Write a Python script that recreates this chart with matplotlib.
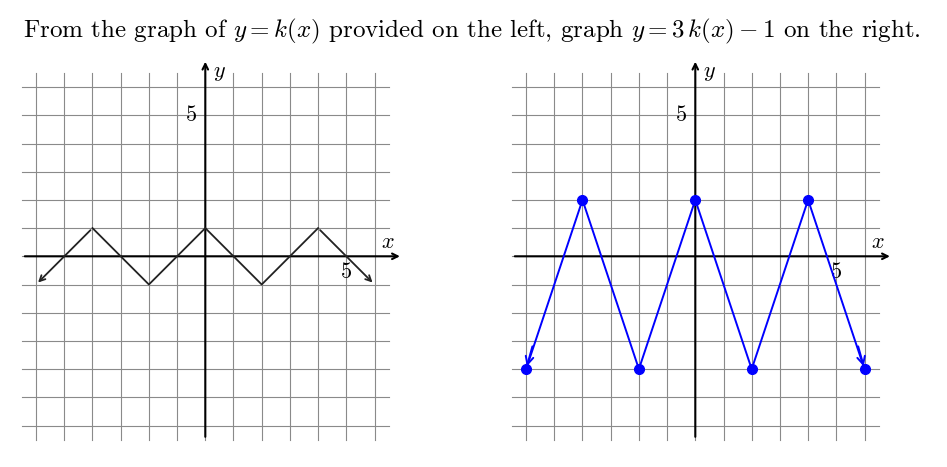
import matplotlib
matplotlib.use("Agg")
import matplotlib.pyplot as plt
import numpy as np

plt.rcParams['mathtext.fontset'] = 'cm'
plt.rcParams['font.family'] = ['cmr10', 'DejaVu Serif']
plt.rcParams['axes.unicode_minus'] = False

# data
k_x = [-6, -4, -2, 0, 2, 4, 6]
k_y = [-1, 1, -1, 1, -1, 1, -1]
g_x = [-6, -4, -2, 0, 2, 4, 6]
g_y = [3 * v - 1 for v in k_y]
tick_vals = [5]
title_text = r"From the graph of $y = k(x)$ provided on the left, graph $y = 3\,k(x) - 1$ on the right."

W, H = 947, 467
fig = plt.figure(figsize=(W / 100, H / 100), dpi=100)
unit = 28.2
xlo, xhi = -7.0, 7.5
ylo, yhi = -7.0, 7.5
aw = (xhi - xlo) * unit
ah = (yhi - ylo) * unit


def make_ax(origin_px_x, origin_px_y):
    left = origin_px_x + xlo * unit
    bottom_from_top = origin_px_y - ylo * unit
    ax = fig.add_axes([left / W, (H - bottom_from_top) / H, aw / W, ah / H])
    ax.set_xlim(xlo, xhi)
    ax.set_ylim(ylo, yhi)
    ax.axis('off')
    grid_col = '#8a8a8a'
    for g in range(-6, 7):
        ax.plot([g, g], [-6.5, 6.5], color=grid_col, lw=0.8, zorder=1)
        ax.plot([-6.5, 6.5], [g, g], color=grid_col, lw=0.8, zorder=1)
    ax.annotate('', xy=(7.0, 0), xytext=(-6.5, 0),
                arrowprops=dict(arrowstyle='->', lw=1.5, color='black', mutation_scale=10), zorder=3)
    ax.annotate('', xy=(0, 7.0), xytext=(0, -6.5),
                arrowprops=dict(arrowstyle='->', lw=1.5, color='black', mutation_scale=10), zorder=3)
    ax.text(6.47, 0.5, r'$x$', fontsize=16, ha='center', va='center')
    ax.text(0.5, 6.5, r'$y$', fontsize=16, ha='center', va='center')
    for t in tick_vals:
        ax.text(t, -0.55, str(t), fontsize=16, ha='center', va='center')
        ax.text(-0.5, t, str(t), fontsize=16, ha='center', va='center')
    return ax


ax1 = make_ax(205.3, 256.3)
ax1.plot(k_x[1:-1], k_y[1:-1], color='#222222', lw=1.3, zorder=4)
ax1.annotate('', xy=(k_x[0], k_y[0]), xytext=(k_x[1], k_y[1]),
             arrowprops=dict(arrowstyle='->', lw=1.3, color='#222222', mutation_scale=10), zorder=4)
ax1.annotate('', xy=(k_x[-1], k_y[-1]), xytext=(k_x[-2], k_y[-2]),
             arrowprops=dict(arrowstyle='->', lw=1.3, color='#222222', mutation_scale=10), zorder=4)

ax2 = make_ax(205.3 + 490, 256.3)
ax2.plot(g_x, g_y, color='#0000ff', lw=1.4, zorder=4, marker='o', markersize=7)
ax2.annotate('', xy=(g_x[0], g_y[0]), xytext=(g_x[0] + 0.25, g_y[0] + 0.9),
             arrowprops=dict(arrowstyle='->', lw=1.4, color='#0000ff', mutation_scale=14), zorder=4)
ax2.annotate('', xy=(g_x[-1], g_y[-1]), xytext=(g_x[-1] - 0.25, g_y[-1] + 0.9),
             arrowprops=dict(arrowstyle='->', lw=1.4, color='#0000ff', mutation_scale=14), zorder=4)

fig.text(472 / W, 1 - 31 / H, title_text, fontsize=18, ha='center', va='center')

fig.savefig('out.png', dpi=100)
